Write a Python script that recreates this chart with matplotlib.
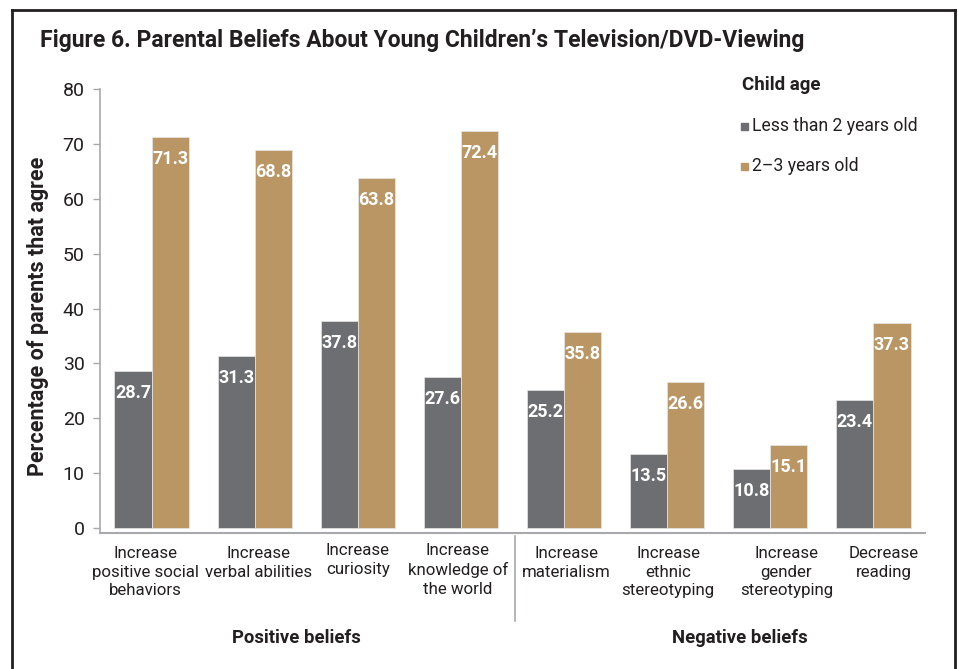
import matplotlib
matplotlib.use("Agg")
import matplotlib.pyplot as plt
import matplotlib.transforms as mtransforms
from matplotlib.lines import Line2D
from matplotlib.patches import Rectangle
import numpy as np

plt.rcParams['font.family'] = ['Roboto', 'DejaVu Sans']

categories = ["Increase\npositive social\nbehaviors", "Increase\nverbal abilities",
              "Increase\ncuriosity", "Increase\nknowledge of\nthe world",
              "Increase\nmaterialism", "Increase\nethnic\nstereotyping",
              "Increase\ngender\nstereotyping", "Decrease\nreading"]
under2 = [28.7, 31.3, 37.8, 27.6, 25.2, 13.5, 10.8, 23.4]
age2_3 = [71.3, 68.8, 63.8, 72.4, 35.8, 26.6, 15.1, 37.3]
series_names = ["Less than 2 years old", "2\u20133 years old"]
yticks = [0, 10, 20, 30, 40, 50, 60, 70, 80]
group_names = ["Positive beliefs", "Negative beliefs"]

GREY = "#6d6e72"
TAN = "#b99664"
TXT = "#231f20"
AX = "#a7a9ac"

W, H = 959, 669
fig = plt.figure(figsize=(W / 100, H / 100), dpi=100)

def fx(px):
    return px / W

def fy(py):
    return 1 - py / H

ax = fig.add_axes([fx(100), fy(533), fx(925) - fx(100), fy(89) - fy(533)])
x = np.arange(len(categories))
bw = 0.36
b1 = ax.bar(x - bw / 2, under2, bw, color=GREY, edgecolor="#e6e6e6", linewidth=0.5)
b2 = ax.bar(x + bw / 2, age2_3, bw, color=TAN, edgecolor="#e6e6e6", linewidth=0.5)

for bars, vals in ((b1, under2), (b2, age2_3)):
    for r, v in zip(bars, vals):
        ax.annotate(f"{v:.1f}", (r.get_x() + r.get_width() / 2, v), xytext=(0, -22),
                    textcoords="offset pixels", ha="center", va="center",
                    color="white", fontsize=13, fontweight="bold")

ax.set_xlim(-0.5, len(categories) - 0.5)
ax.set_ylim(-0.91, 80)
ax.set_yticks(yticks)
ax.set_yticklabels([str(t) for t in yticks], fontsize=14, color=TXT)
ax.tick_params(axis="y", length=5, width=1, color=AX, pad=6)
ax.set_xticks([])
for s in ("top", "right"):
    ax.spines[s].set_visible(False)
ax.spines["left"].set_color(AX)
ax.spines["bottom"].set_color(AX)
ax.spines["left"].set_linewidth(1.2)
ax.spines["bottom"].set_linewidth(1.5)

blend = mtransforms.blended_transform_factory(ax.transData, fig.transFigure)
label_shift_px = [-6, 4, 0, -3, 2, 1, 16, 10]
for i, c in enumerate(categories):
    yy = 543 if i in (2, 3) else 546
    tr = blend + mtransforms.ScaledTranslation(label_shift_px[i] / 100, 0, fig.dpi_scale_trans)
    ax.text(i, fy(yy), c, transform=tr, ha="center", va="top", fontsize=12.2,
            color=TXT, linespacing=1.3)

fig.add_artist(Line2D([fx(515), fx(515)], [fy(536), fy(621)], color=AX, linewidth=1.2,
                      transform=fig.transFigure))

fig.text(fx(296), fy(638), group_names[0], ha="center", va="center", fontsize=13.3,
         fontweight="bold", color=TXT)
fig.text(fx(740), fy(638), group_names[1], ha="center", va="center", fontsize=13.3,
         fontweight="bold", color=TXT)

fig.text(fx(38), fy(316), "Percentage of parents that agree", rotation=90,
         ha="center", va="center", fontsize=15.5, fontweight="bold", color=TXT)

fig.text(fx(40), fy(41), "Figure 6. Parental Beliefs About Young Children\u2019s Television/DVD-Viewing",
         ha="left", va="center", fontsize=16.5, fontweight="bold", color=TXT)

fig.text(fx(742), fy(85), "Child age", ha="left", va="center", fontsize=13.5,
         fontweight="bold", color=TXT)
for name, col, yy in ((series_names[0], GREY, 126), (series_names[1], TAN, 166)):
    fig.add_artist(Rectangle((fx(741), fy(yy + 4)), fx(7), 7 / H, color=col,
                             transform=fig.transFigure))
    fig.text(fx(752), fy(yy), name, ha="left", va="center", fontsize=12.7, color=TXT)

for xs, ys in (([12, 12], [10, 669]), ([12, 955], [10, 10]), ([955, 955], [10, 669])):
    fig.add_artist(Line2D([fx(v) for v in xs], [fy(v) for v in ys], color=TXT,
                          linewidth=2, transform=fig.transFigure))

fig.savefig("out.png", dpi=100)
